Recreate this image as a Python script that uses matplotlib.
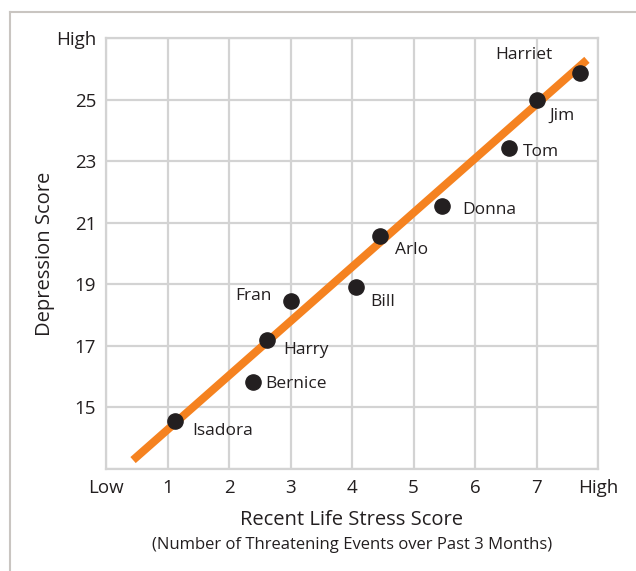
import numpy as np
import matplotlib.pyplot as plt
from matplotlib.lines import Line2D

plt.rcParams['font.family'] = ['Open Sans', 'DejaVu Sans']

# data
names = ['Harriet', 'Jim', 'Tom', 'Donna', 'Arlo', 'Bill', 'Fran', 'Harry', 'Bernice', 'Isadora']
stress = [7.70, 7.00, 6.55, 5.47, 4.45, 4.07, 3.00, 2.62, 2.39, 1.12]
depression = [25.87, 24.97, 23.42, 21.55, 20.58, 18.90, 18.45, 17.19, 15.84, 14.55]
# label offsets in pixels (dx, dy up)
label_off = [(-56, 18), (26, -15), (32, -4), (47, -4), (32, -14),
             (26, -15), (-37, 5), (39, -10), (43, -2), (48, -10)]

fit_x = [0.44, 7.82]
fit_y = [13.29, 26.29]

xticks = [0, 1, 2, 3, 4, 5, 6, 7, 8]
xticklabels = ['Low', '1', '2', '3', '4', '5', '6', '7', 'High']
yticks = [13, 15, 17, 19, 21, 23, 25, 27]
yticklabels = ['', '15', '17', '19', '21', '23', '25', 'High']

fig = plt.figure(figsize=(6.36, 5.71), dpi=100)
ax = fig.add_axes([106 / 636, 1 - 469 / 571, 492 / 636, 431 / 571])

grid_c = '#d3d3d3'
txt_c = '#231f20'
ax.set_xlim(0, 8)
ax.set_ylim(13, 27)
ax.set_xticks(xticks)
ax.set_xticklabels(xticklabels)
ax.set_yticks(yticks)
ax.set_yticklabels(yticklabels)
ax.tick_params(length=0, labelsize=13.5, colors=txt_c, pad=7)
ax.grid(True, color=grid_c, lw=1.6)
for s in ax.spines.values():
    s.set_color(grid_c)
    s.set_linewidth(1.6)
ax.set_axisbelow(True)

ax.plot(fit_x, fit_y, color='#f58220', lw=5.8, solid_capstyle='butt', zorder=3)
ax.scatter(stress, depression, s=120, color=txt_c, zorder=4)
for n, x, y, (dx, dy) in zip(names, stress, depression, label_off):
    ax.annotate(n, (x, y), xytext=(dx, dy), textcoords='offset pixels',
                ha='center', va='center', fontsize=12.5, color=txt_c)

fig.text(45 / 636, 1 - 254 / 571, 'Depression Score', fontsize=14.5, rotation=90,
         ha='center', va='center', color=txt_c)
fig.text(352 / 636, 1 - 520 / 571, 'Recent Life Stress Score', fontsize=14.5,
         ha='center', va='center', color=txt_c)
fig.text(352 / 636, 1 - 545 / 571, '(Number of Threatening Events over Past 3 Months)',
         fontsize=12, ha='center', va='center', color=txt_c)

# page frame
fig.add_artist(Line2D([10 / 636, 1], [1 - 12 / 571] * 2, color='#c9c5c1', lw=1.5))
fig.add_artist(Line2D([10 / 636] * 2, [0, 1 - 12 / 571], color='#c9c5c1', lw=1.5))

fig.savefig('out.png', dpi=100)
